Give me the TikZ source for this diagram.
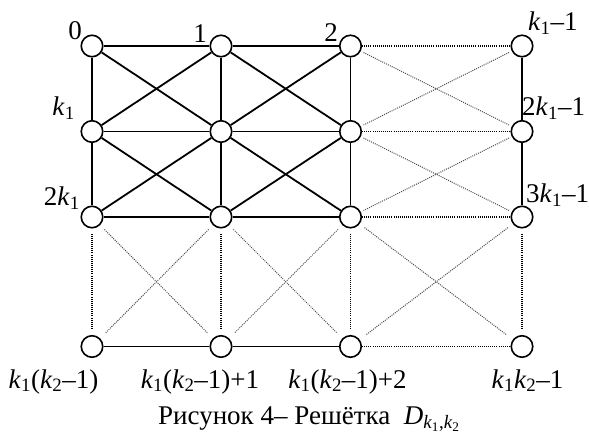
\documentclass[tikz,border=0pt]{standalone}
\usepackage{fontspec}
\setmainfont{Liberation Serif}
\newcommand\ki{\textit{k}\textsubscript{1}}
\newcommand\kii{\textit{k}\textsubscript{2}}
\tikzset{
  vert/.style={circle,draw,line width=1.6bp,fill=white,minimum size=21.5bp,inner sep=0pt},
  solidedge/.style={line width=1.8bp},
  dotedge/.style={line width=1.1bp,dash pattern=on 1bp off 1.1bp,black},
  dotdiag/.style={line width=1bp,dash pattern=on 1bp off 1.1bp,black!70},
  lbl/.style={font=\fontsize{27bp}{32bp}\selectfont,inner sep=0pt}
}
\begin{document}
\begin{tikzpicture}[x=1bp,y=-1bp]
\useasboundingbox (0,0) rectangle (589,435);
% nodes
\foreach \r/\yy in {0/46,1/131.5,2/217,3/346.5}{
  \foreach \c/\xx in {0/92,1/221,2/350.5,3/522}{
    \node[vert] (a\r\c) at (\xx,\yy) {};
  }
}
% solid edges
\foreach \r in {0,1,2}{
  \draw[solidedge] (a\r0) -- (a\r1);
  \draw[solidedge] (a\r1) -- (a\r2);
}
\foreach \r/\s in {0/1,1/2}{
  \foreach \c in {0,1,2}{
    \draw[solidedge] (a\r\c) -- (a\s\c);
  }
  \draw[solidedge] (a\r3) -- (a\s3);
  \foreach \c/\d in {0/1,1/2}{
    \draw[solidedge] (a\r\c) -- (a\s\d);
    \draw[solidedge] (a\r\d) -- (a\s\c);
  }
}
\draw[solidedge] (a30) -- (a31);
\draw[solidedge] (a31) -- (a32);
% dotted edges
\foreach \r in {0,1,2,3}{
  \draw[dotedge] (a\r2) -- (a\r3);
}
\foreach \c in {0,1,2,3}{
  \draw[dotedge,shorten <=5bp,shorten >=6bp] (a2\c) -- (a3\c);
}
\foreach \r/\s in {0/1,1/2}{
  \draw[dotdiag,shorten <=3bp,shorten >=3bp] (a\r2) -- (a\s3);
  \draw[dotdiag,shorten <=3bp,shorten >=3bp] (a\r3) -- (a\s2);
}
\foreach \c/\d in {0/1,1/2,2/3}{
  \draw[dotdiag,shorten <=6bp,shorten >=8bp] (a2\c) -- (a3\d);
  \draw[dotdiag,shorten <=6bp,shorten >=8bp] (a2\d) -- (a3\c);
}
% labels
\node[lbl,anchor=base east] (l0) at (82,40) {0};
\node[lbl,anchor=base east] (l1) at (207,43) {1};
\node[lbl,anchor=base east] (l2) at (338,42) {2};
\node[lbl,anchor=base west] (l3) at (528,31) {\ki–1};
\node[lbl,anchor=base east] (l4) at (75,116) {\ki};
\node[lbl,anchor=base east] (l5) at (80,206) {2\ki};
\node[lbl,anchor=base west] (l6) at (522,116) {2\ki–1};
\node[lbl,anchor=base west] (l7) at (526,203) {3\ki–1};
\node[lbl,anchor=base] (l8) at (53.5,388) {\ki(\kii–1)};
\node[lbl,anchor=base] (l9) at (200,388) {\ki(\kii–1)+1};
\node[lbl,anchor=base] (l10) at (347.5,388) {\ki(\kii–1)+2};
\node[lbl,anchor=base] (l11) at (527.5,388) {\ki\kii–1};
\node[lbl,anchor=base west] (cap) at (158,424) {Рисунок 4– Решётка \ \textit{D}\textsubscript{\ki,\kii}};
\end{tikzpicture}
\end{document}
